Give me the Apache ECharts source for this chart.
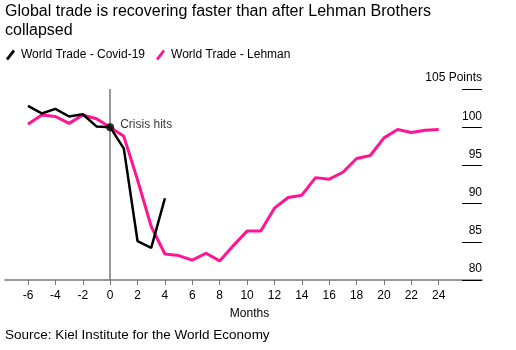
<!DOCTYPE html>
<html>
<head>
<meta charset="utf-8">
<script src="https://cdn.jsdelivr.net/npm/echarts@6/dist/echarts.min.js"></script>
<style>
  html, body { margin: 0; padding: 0; background: #fff; }
  #chart { width: 516px; height: 350px; }
</style>
</head>
<body>
<div id="chart"></div>
<script>
// months from the crisis
var months = [-6, -5, -4, -3, -2, -1, 0, 1, 2, 3, 4, 5, 6, 7, 8, 9, 10, 11, 12, 13, 14, 15, 16, 17, 18, 19, 20, 21, 22, 23, 24]
var covid = [102.8, 101.8, 102.4, 101.4, 101.7, 100.1, 100, 97.2, 85.1, 84.2, 90.7]
var lehman = [100.4, 101.6, 101.4, 100.5, 101.6, 101.1, 100, 98.8, 93.1, 87.0, 83.4, 83.2, 82.6, 83.5, 82.5, 84.5, 86.4, 86.4, 89.4, 90.8, 91.1, 93.4, 93.2, 94.1, 95.9, 96.3, 98.6, 99.7, 99.3, 99.6, 99.7]
var xTicks = [-6, -4, -2, 0, 2, 4, 6, 8, 10, 12, 14, 16, 18, 20, 22, 24]
var crisis = [[0, 100]]

var font = 'Liberation Sans, Arial, sans-serif'
var pink = '#ff1493'

function pairs(vals) {
  var out = []
  for (var i = 0; i < vals.length; i++) {
    out.push([months[i], vals[i]])
  }
  return out
}

var chart = echarts.init(document.getElementById('chart'))
chart.setOption({
  animation: false,
  textStyle: { fontFamily: font },
  title: [{
    text: 'Global trade is recovering faster than after Lehman Brothers\ncollapsed',
    left: 5,
    top: 2,
    padding: 0,
    textStyle: { fontSize: 16, fontWeight: 'normal', color: '#000', lineHeight: 19, fontFamily: font }
  }, {
    text: 'Source: Kiel Institute for the World Economy',
    left: 5,
    top: 328,
    padding: 0,
    textStyle: { fontSize: 13.5, fontWeight: 'normal', color: '#000', fontFamily: font }
  }],
  legend: {
    left: 1,
    top: 44,
    itemWidth: 11,
    itemHeight: 11,
    itemGap: 11,
    textStyle: { fontSize: 12, color: '#000', fontFamily: font },
    data: [
      { name: 'World Trade - Covid-19', icon: 'path://M0,9 L7,0 L9,2 L2,11 Z' },
      { name: 'World Trade - Lehman', icon: 'path://M0,9 L7,0 L9,2 L2,11 Z' }
    ]
  },
  grid: { left: 5, right: 34, top: 89, bottom: 70 },
  xAxis: {
    type: 'value',
    min: -7.68,
    max: 27.16,
    name: 'Months',
    nameLocation: 'middle',
    nameGap: 28,
    nameTextStyle: { fontSize: 12, color: '#000', fontFamily: font, padding: [0, 0, 0, 12] },
    axisLine: { lineStyle: { color: '#777', width: 1.5 } },
    axisTick: { show: true, length: 5, customValues: xTicks, lineStyle: { color: '#777' } },
    axisLabel: { customValues: xTicks, fontSize: 12, color: '#000', margin: 10 },
    splitLine: { show: false }
  },
  yAxis: {
    type: 'value',
    position: 'right',
    min: 80,
    max: 105,
    interval: 5,
    axisLine: { show: false, onZero: false },
    axisTick: { show: true, inside: true, length: 20, lineStyle: { color: '#000', width: 1 } },
    axisLabel: {
      inside: true,
      margin: 0,
      align: 'right',
      verticalAlign: 'bottom',
      padding: [0, 0, 5, 0],
      fontSize: 12,
      color: '#000',
      formatter: function (v) { return v === 105 ? '105 Points' : String(v) }
    },
    splitLine: { show: false }
  },
  series: [{
    name: 'World Trade - Covid-19',
    type: 'line',
    data: pairs(covid),
    showSymbol: false,
    color: '#000',
    lineStyle: { color: '#000', width: 2.5 },
    markLine: {
      silent: true,
      symbol: 'none',
      label: { show: false },
      lineStyle: { color: '#777', width: 1.5, type: 'solid' },
      data: [{ xAxis: 0 }]
    },
    z: 3
  }, {
    name: 'World Trade - Lehman',
    type: 'line',
    data: pairs(lehman),
    showSymbol: false,
    color: pink,
    lineStyle: { color: pink, width: 3 },
    z: 2
  }, {
    name: 'Crisis',
    type: 'scatter',
    data: crisis,
    symbolSize: 8,
    itemStyle: { color: '#000' },
    label: {
      show: true,
      position: 'right',
      distance: 6,
      offset: [0, -3],
      formatter: 'Crisis hits',
      fontSize: 12,
      color: '#000'
    },
    z: 5
  }]
})
</script>
</body>
</html>
